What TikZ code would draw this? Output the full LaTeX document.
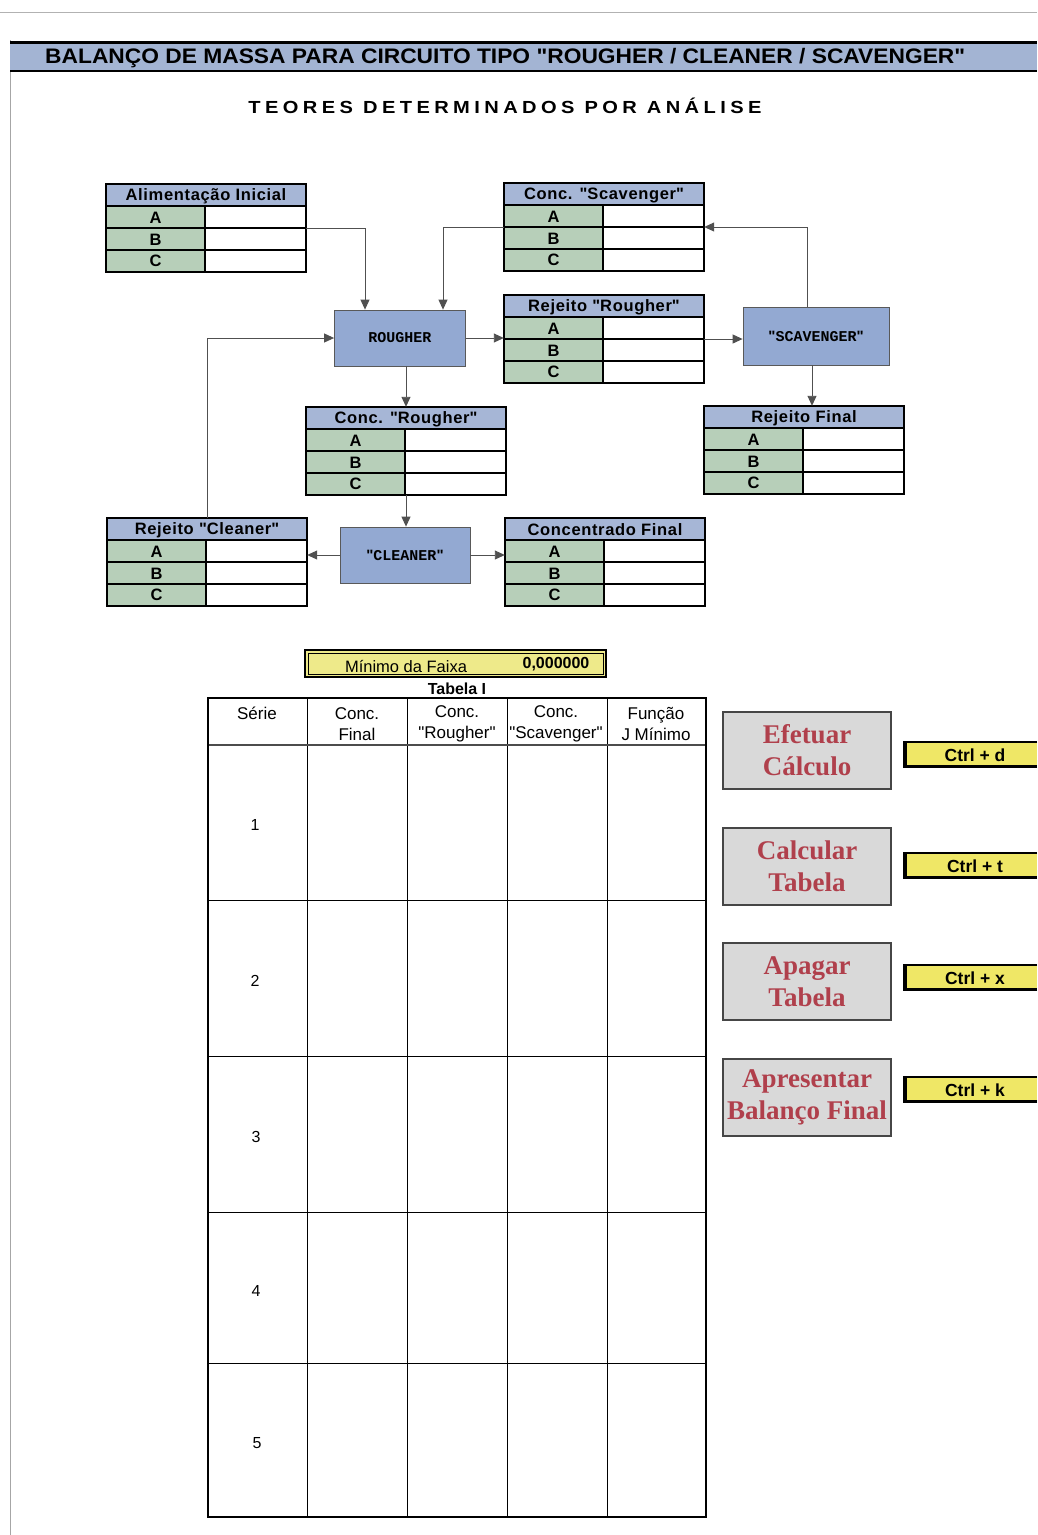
\documentclass[tikz,border=0pt]{standalone}
\usepackage{fontspec}
\usepackage{graphicx}
\setmainfont{Liberation Sans}
\newfontfamily\btnfont{Liberation Serif}
\newfontfamily\procfont{Liberation Mono}
\newfontfamily\widesans[LetterSpace=22]{Liberation Sans}
\newfontfamily\hdrsans[LetterSpace=4]{Liberation Sans}
\newfontfamily\qfont{Liberation Sans}
\usetikzlibrary{arrows.meta,calc}

% straight double quote, set in a family without TeX ligature mapping
\newcommand\qq{{\qfont\symbol{34}}}

\definecolor{hdrfill}{HTML}{A6B6D6}
\definecolor{cellfill}{HTML}{B7CFB9}
\definecolor{procfill}{HTML}{93A9D2}
\definecolor{bandfill}{HTML}{A3B4D3}
\definecolor{btnfill}{HTML}{D9D9D9}
\definecolor{btnred}{HTML}{B0404C}
\definecolor{keyfill}{HTML}{EFE766}
\definecolor{minfill}{HTML}{EEEA8A}
\definecolor{flowline}{HTML}{505050}

\tikzset{
  hdrtext/.style={font=\hdrsans\bfseries\fontsize{16.5}{17}\selectfont, inner sep=0pt},
  celltext/.style={font=\bfseries\fontsize{16.5}{17}\selectfont, inner sep=0pt},
  procbox/.style={draw=gray!70!black, line width=0.8pt, fill=procfill, minimum width=#1, minimum height=56pt, inner sep=0pt,
                  font=\procfont\bfseries\fontsize{15}{16}\selectfont},
  flow/.style={draw=flowline, line width=0.9pt, -{Triangle[length=10pt,width=9pt]}},
  thtext/.style={font=\fontsize{17}{21}\selectfont, align=center, inner sep=0pt},
  numtext/.style={font=\fontsize{16}{18}\selectfont, inner sep=0pt},
  btnbox/.style={draw=gray!55!black, line width=1.2pt, fill=btnfill, minimum width=168pt, minimum height=77pt, inner sep=0pt,
                 font=\btnfont\bfseries\fontsize{27}{32}\selectfont, text=btnred, align=center},
  keytext/.style={font=\bfseries\fontsize{17.5}{18}\selectfont, inner sep=0pt},
}

% data block: #1 name, #2 x, #3 y (top left), #4 title
\newcommand\databox[4]{%
  \begin{scope}[shift={(#2,#3)}]
    \fill[hdrfill] (0,0) rectangle (200,22);
    \fill[cellfill] (0,22) rectangle (99,88);
    \fill[white] (99,22) rectangle (200,88);
    \draw[line width=1.2pt] (0,22) -- (200,22) (0,44) -- (200,44) (0,66) -- (200,66) (99,22) -- (99,88);
    \draw[line width=2.2pt] (0,0) rectangle (200,88);
    \node[hdrtext] (#1-t) at (100,12) {#4};
    \node[celltext] (#1-a) at (49.5,34) {A};
    \node[celltext] (#1-b) at (49.5,56) {B};
    \node[celltext] (#1-c) at (49.5,77) {C};
    \node[inner sep=0pt, minimum width=200pt, minimum height=88pt] (#1) at (100,44) {};
  \end{scope}}

\begin{document}
\begin{tikzpicture}[x=1pt,y=-1pt]
\useasboundingbox (0,0) rectangle (1037,1535);
\fill[white] (0,0) rectangle (1037,1535);

% page edges
\draw[gray!60, line width=0.8pt] (0,12) -- (1037,12);
\draw[gray!70, line width=1pt] (10,40) -- (10,1535);

% title band
\fill[bandfill] (10,42) rectangle (1037,71);
\draw[line width=3pt] (10,42) -- (1037,42);
\draw[line width=2.5pt] (10,71) -- (1037,71);
\node[anchor=west, inner sep=0pt] (title) at (45,58)
  {\resizebox{920pt}{\height}{\bfseries\fontsize{21}{22}\selectfont BALANÇO DE MASSA PARA CIRCUITO TIPO \qq ROUGHER / CLEANER / SCAVENGER\qq}};
\node[inner sep=0pt] (sub) at (505,106)
  {\resizebox{513pt}{\height}{\widesans\bfseries\fontsize{17.5}{18}\selectfont TEORES DETERMINADOS POR ANÁLISE}};

% data blocks
\databox{alim}{106}{184}{Alimentação Inicial}
\databox{cscav}{504}{183}{Conc. \qq Scavenger\qq}
\databox{rrough}{504}{295}{Rejeito \qq Rougher\qq}
\databox{crough}{306}{407}{Conc. \qq Rougher\qq}
\databox{rfinal}{704}{406}{Rejeito Final}
\databox{rclean}{107}{518}{Rejeito \qq Cleaner\qq}
\databox{cfinal}{505}{518}{Concentrado Final}

% process units
\node[procbox=131pt] (rough) at (400,338) {ROUGHER};
\node[procbox=146pt, minimum height=58pt] (scav) at (816,336) {\qq SCAVENGER\qq};
\node[procbox=130pt] (clean) at (405,555) {\qq CLEANER\qq};

% streams
\draw[flow] (alim.east) -| ([xshift=-35pt]rough.north);
\draw[flow] (cscav.west) -| ([xshift=43pt]rough.north);
\draw[flow] (rough.east) -- (rough.east -| rrough.west);
\draw[flow] (rrough.east) -- (rrough.east -| scav.west);
\draw[flow] ([xshift=-9pt]scav.north) |- (cscav.east);
\draw[flow] ([xshift=-4pt]scav.south) -- ([xshift=-4pt]scav.south |- rfinal.north);
\draw[flow] (crough.north |- rough.south) -- (crough.north);
\draw[flow] (crough.south) -- (crough.south |- clean.north);
\draw[flow] (clean.west) -- (clean.west -| rclean.east);
\draw[flow] (clean.east) -- (clean.east -| cfinal.west);
\draw[flow] (rclean.north) |- (rough.west);

% range minimum field
\node[draw, line width=2pt, fill=minfill, minimum width=301pt, minimum height=27pt, inner sep=0pt] (minbox) at (455.5,663.5) {};
\draw[line width=1pt] ([xshift=4pt,yshift=-4pt]minbox.north west) rectangle ([xshift=-4pt,yshift=4pt]minbox.south east);
\node[font=\fontsize{16.5}{18}\selectfont, inner sep=0pt] (minlbl) at (406,666) {Mínimo da Faixa};
\node[font=\bfseries\fontsize{16}{18}\selectfont, inner sep=0pt] (minval) at (556,664) {0,000000};
\node[font=\bfseries\fontsize{16}{18}\selectfont, inner sep=0pt] (tabcap) at (457,689) {Tabela I};

% table
\draw[line width=1pt] (307,698) -- (307,1517) (407,698) -- (407,1517) (507,698) -- (507,1517) (607,698) -- (607,1517);
\draw[line width=1.2pt, gray!60!black] (208,745) -- (706,745);
\draw[line width=1pt] (208,900) -- (706,900) (208,1056) -- (706,1056) (208,1212) -- (706,1212) (208,1363) -- (706,1363);
\draw[line width=2.2pt] (208,698) rectangle (706,1517);
\node[thtext] (h1) at (257,713) {Série};
\node[thtext] (h2) at (357,724) {Conc.\\Final};
\node[thtext] (h3) at (457,724) {Conc.\\\qq Rougher\qq};
\node[thtext] (h4) at (556,724) {Conc.\\\qq Scavenger\qq};
\node[thtext] (h5) at (656,724) {Função\\J Mínimo};
\node[numtext] (n1) at (255,825) {1};
\node[numtext] (n2) at (255,981) {2};
\node[numtext] (n3) at (256,1137) {3};
\node[numtext] (n4) at (256,1291) {4};
\node[numtext] (n5) at (257,1443) {5};

% command buttons
\node[btnbox] (b1) at (807,750.5) {Efetuar\\Cálculo};
\node[btnbox] (b2) at (807,866.5) {Calcular\\Tabela};
\node[btnbox] (b3) at (807,981.5) {Apagar\\Tabela};
\node[btnbox] (b4) at (807,1097.5) {Apresentar\\Balanço Final};

% keyboard shortcuts
\foreach \yy/\kk/\nm in {754/d/k1, 865/t/k2, 977/x/k3, 1089/k/k4}{
  \fill[keyfill] (904,\yy-12) rectangle (1037,\yy+12);
  \draw[line width=2pt] (1037,\yy-12) -- (904,\yy-12);
  \draw[line width=3pt] (1037,\yy+12) -- (904,\yy+12);
  \draw[line width=4pt] (905,\yy-13) -- (905,\yy+13.5);
  \node[keytext] (\nm) at (975,\yy+1) {Ctrl + \kk};
}
\end{tikzpicture}
\end{document}
